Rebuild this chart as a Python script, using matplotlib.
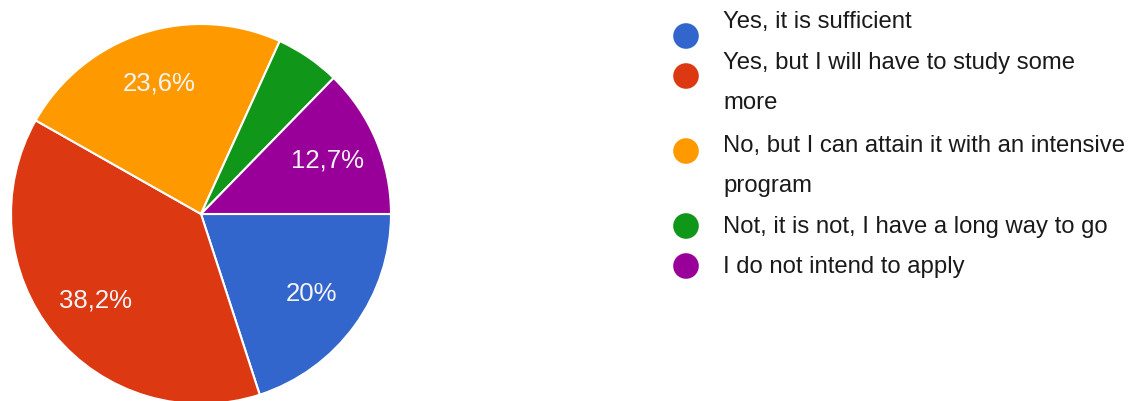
import matplotlib
matplotlib.use("Agg")
from matplotlib import pyplot as plt
import numpy as np

# data
labels = ["Yes, it is sufficient",
          "Yes, but I will have to study some\nmore",
          "No, but I can attain it with an intensive\nprogram",
          "Not, it is not, I have a long way to go",
          "I do not intend to apply"]
values = [20.0, 38.2, 23.6, 5.5, 12.7]
pct_text = ["20%", "38,2%", "23,6%", "", "12,7%"]
colors = ['#3366cc', '#dc3912', '#ff9900', '#109618', '#990099']

plt.rcParams['font.family'] = ['Liberation Sans', 'DejaVu Sans']

W, H = 1134, 401
fig = plt.figure(figsize=(W / 100, H / 100), dpi=100)

# pie, placed in pixels: center (201, 214), radius 190
cx, cy, r = 201, 214, 190
ax = fig.add_axes([(cx - r) / W, (H - cy - r) / H, 2 * r / W, 2 * r / H])
wedges, texts = ax.pie(values, colors=colors, startangle=0, counterclock=False,
                       wedgeprops=dict(edgecolor='white', linewidth=1.5))
ax.set_xlim(-1, 1)
ax.set_ylim(-1, 1)
ax.axis('off')

ang0 = 0.0
for v, t in zip(values, pct_text):
    mid = np.deg2rad(ang0 - v * 3.6 / 2)
    ang0 -= v * 3.6
    if t:
        ax.text(0.72 * np.cos(mid), 0.72 * np.sin(mid), t, ha='center', va='center',
                color='#f4f4f4', fontsize=18.5)

# legend drawn by hand
lax = fig.add_axes([0, 0, 1, 1])
lax.set_xlim(0, W)
lax.set_ylim(H, 0)
lax.axis('off')

dot_y = [36, 76, 151, 226, 266]
text_y = [22, 63, 146, 227, 267]
for lab, c, dy, ty in zip(labels, colors, dot_y, text_y):
    lax.scatter([686], [dy], s=340, color=c, edgecolor='none')
    for i, line in enumerate(lab.split("\n")):
        lax.text(723, ty + i * 40, line, ha='left', va='center', fontsize=17.2, color='#1a1a1a')

fig.savefig("out.png", dpi=100)
